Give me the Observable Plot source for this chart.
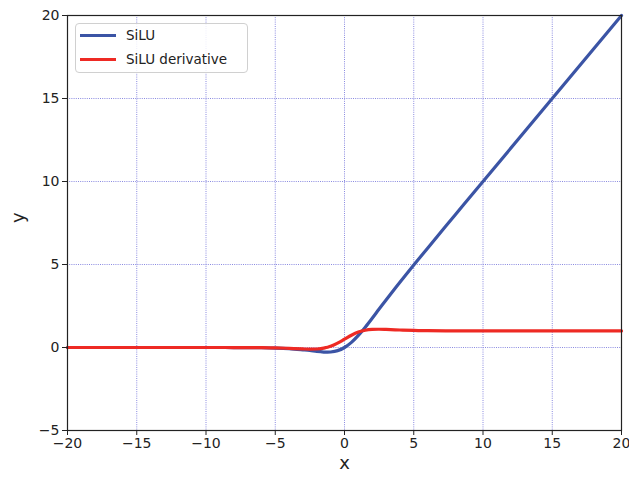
<!DOCTYPE html>
<html>
<head>
<meta charset="utf-8">
<script src="https://cdn.jsdelivr.net/npm/d3@7"></script>
<script src="https://cdn.jsdelivr.net/npm/@observablehq/plot@0.6"></script>
<style>
  body { margin: 0; background: #fff; }
  #wrap { position: relative; width: 629px; height: 481px; font-family: "DejaVu Sans", sans-serif; }
  #legend { position: absolute; left: 75px; top: 23px; width: 171px; height: 48px; border: 1px solid #d0d0d0; border-radius: 4px; background: rgba(255,255,255,0.85); font-size: 13.5px; color: #222; }
  .row { position: absolute; left: 4px; height: 16px; display: flex; align-items: center; }
  .sw { width: 36px; height: 3px; margin-right: 10px; }
</style>
</head>
<body>
<div id="wrap">
  <div id="chart"></div>
  <div id="legend">
    <div class="row" style="top:3px"><div class="sw" style="background:#3b54a5"></div><span>SiLU</span></div>
    <div class="row" style="top:27px"><div class="sw" style="background:#ee2a24"></div><span>SiLU derivative</span></div>
  </div>
</div>
<script>
const xs = [-20, -10, -8, -6, -5, -4, -3, -2.5, -2, -1.5, -1.25, -1, -0.5, 0, 0.5, 1, 1.5, 2, 2.5, 3, 4, 5, 6, 8, 10, 20];
const silu = [0, -0.0005, -0.0027, -0.0148, -0.0335, -0.0719, -0.142, -0.182, -0.238, -0.274, -0.279, -0.269, -0.189, 0, 0.311, 0.731, 1.226, 1.762, 2.318, 2.858, 3.928, 4.967, 5.985, 7.997, 10, 20];
const siluDeriv = [0, -0.0004, -0.0024, -0.0124, -0.0266, -0.0529, -0.0881, -0.0995, -0.0908, -0.0413, 0.0157, 0.0723, 0.260, 0.5, 0.740, 0.928, 1.041, 1.091, 1.0995, 1.088, 1.053, 1.027, 1.012, 1.0024, 1.0005, 1.0];
const xTicks = [-20, -15, -10, -5, 0, 5, 10, 15, 20];
const yTicks = [-5, 0, 5, 10, 15, 20];

const s1 = xs.map((x, i) => ({x, y: silu[i]}));
const s2 = xs.map((x, i) => ({x, y: siluDeriv[i]}));
const fmt = d => d < 0 ? "\u2212" + Math.abs(d) : String(d);

const chart = Plot.plot({
  width: 629,
  height: 481,
  marginLeft: 67,
  marginRight: 8,
  marginTop: 15,
  marginBottom: 51,
  style: {fontFamily: "DejaVu Sans, sans-serif", fontSize: "14px", color: "#222", background: "white"},
  x: {domain: [-20, 20], label: null},
  y: {domain: [-5, 20], label: null},
  marks: [
    Plot.ruleX(xTicks, {x: d => d, stroke: "#8a8ae0", strokeDasharray: "1,1.2", strokeWidth: 1}),
    Plot.ruleY(yTicks, {y: d => d, stroke: "#8a8ae0", strokeDasharray: "1,1.2", strokeWidth: 1}),
    Plot.line(s1, {x: "x", y: "y", stroke: "#3b54a5", strokeWidth: 3.2, curve: "catmull-rom"}),
    Plot.line(s2, {x: "x", y: "y", stroke: "#ee2a24", strokeWidth: 3.2, curve: "catmull-rom"}),
    Plot.frame({stroke: "#222", strokeWidth: 1.2}),
    Plot.axisX({ticks: xTicks, tickSize: 5, tickPadding: 3, tickFormat: fmt, label: null, fontSize: 14}),
    Plot.axisY({ticks: yTicks, tickSize: 5, tickPadding: 3, tickFormat: fmt, label: null, fontSize: 14}),
    Plot.text(["x"], {frameAnchor: "bottom", dy: 38, fontSize: 18, fill: "#222"}),
    Plot.text(["y"], {frameAnchor: "left", dx: -49, rotate: -90, fontSize: 18, fill: "#222"})
  ]
});
document.getElementById("chart").appendChild(chart);
</script>
</body>
</html>
